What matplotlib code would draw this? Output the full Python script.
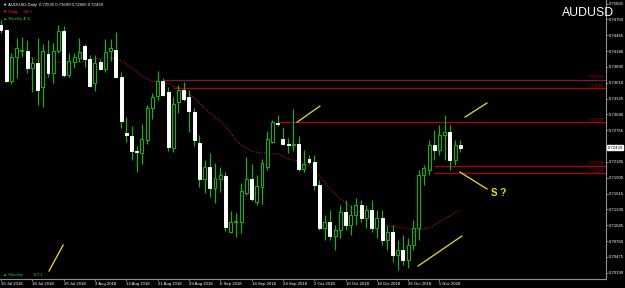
import matplotlib
matplotlib.use("Agg")
import matplotlib.pyplot as plt
from matplotlib.patches import Rectangle
import numpy as np

plt.rcParams["font.family"] = ["Liberation Sans", "DejaVu Sans"]

SYMBOL = "AUDUSD"
HEADER = "AUDUSD,Daily  0.72535 0.73699 0.72065 0.72439"

# daily bars, 10 Jul 2018 .. 9 Nov 2018
OPEN = [0.7465, 0.7456, 0.7364, 0.7407, 0.7418, 0.7418, 0.7388, 0.7397, 0.7353, 0.7413,
        0.7379, 0.7418, 0.7454, 0.7375, 0.7398, 0.7406, 0.7427, 0.7404, 0.7361, 0.7398,
        0.7386, 0.7418, 0.7420, 0.7371, 0.7271, 0.7265, 0.7238, 0.7235, 0.7258, 0.7316,
        0.7337, 0.7364, 0.7344, 0.7244, 0.7326, 0.7348, 0.7335, 0.7308, 0.7253, 0.7188,
        0.7209, 0.7172, 0.7188, 0.7193, 0.7092, 0.7110, 0.7110, 0.7163, 0.7188, 0.7146,
        0.7173, 0.7209, 0.7254, 0.7289, 0.7260, 0.7251, 0.7249, 0.7251, 0.7206, 0.7224,
        0.7218, 0.7177, 0.7100, 0.7110, 0.7085, 0.7096, 0.7128, 0.7105, 0.7123, 0.7141,
        0.7118, 0.7132, 0.7100, 0.7118, 0.7078, 0.7092, 0.7051, 0.7060, 0.7042, 0.7069,
        0.7100, 0.7195, 0.7204, 0.7249, 0.7240, 0.7267, 0.7272, 0.7222, 0.7249]
HIGH = [0.7474, 0.7458, 0.7415, 0.7442, 0.7443, 0.7438, 0.7407, 0.7442, 0.7431, 0.7438,
        0.7433, 0.7465, 0.7463, 0.7415, 0.7415, 0.7442, 0.7431, 0.7411, 0.7411, 0.7404,
        0.7440, 0.7440, 0.7452, 0.7380, 0.7299, 0.7283, 0.7247, 0.7287, 0.7321, 0.7343,
        0.7382, 0.7370, 0.7353, 0.7335, 0.7357, 0.7362, 0.7348, 0.7316, 0.7267, 0.7222,
        0.7235, 0.7217, 0.7209, 0.7200, 0.7130, 0.7127, 0.7181, 0.7227, 0.7215, 0.7195,
        0.7224, 0.7274, 0.7294, 0.7303, 0.7281, 0.7262, 0.7314, 0.7265, 0.7240, 0.7231,
        0.7231, 0.7186, 0.7123, 0.7132, 0.7105, 0.7141, 0.7150, 0.7141, 0.7154, 0.7150,
        0.7141, 0.7150, 0.7132, 0.7132, 0.7105, 0.7105, 0.7078, 0.7087, 0.7082, 0.7114,
        0.7204, 0.7213, 0.7258, 0.7276, 0.7285, 0.7303, 0.7285, 0.7258, 0.7258]
LOW = [0.7451, 0.7362, 0.7359, 0.7370, 0.7407, 0.7379, 0.7344, 0.7321, 0.7317, 0.7371,
       0.7361, 0.7415, 0.7371, 0.7371, 0.7388, 0.7398, 0.7389, 0.7353, 0.7346, 0.7384,
       0.7380, 0.7400, 0.7370, 0.7280, 0.7254, 0.7222, 0.7200, 0.7215, 0.7251, 0.7296,
       0.7330, 0.7337, 0.7238, 0.7236, 0.7307, 0.7328, 0.7272, 0.7247, 0.7173, 0.7163,
       0.7155, 0.7145, 0.7164, 0.7094, 0.7091, 0.7083, 0.7091, 0.7159, 0.7148, 0.7141,
       0.7143, 0.7204, 0.7253, 0.7283, 0.7249, 0.7235, 0.7238, 0.7202, 0.7200, 0.7215,
       0.7168, 0.7096, 0.7078, 0.7078, 0.7060, 0.7082, 0.7096, 0.7087, 0.7105, 0.7110,
       0.7100, 0.7092, 0.7082, 0.7069, 0.7060, 0.7038, 0.7024, 0.7033, 0.7028, 0.7060,
       0.7078, 0.7177, 0.7195, 0.7222, 0.7231, 0.7222, 0.7204, 0.7213, 0.7236]
CLOSE = [0.7456, 0.7364, 0.7407, 0.7424, 0.7420, 0.7388, 0.7397, 0.7348, 0.7418, 0.7379,
         0.7418, 0.7454, 0.7375, 0.7400, 0.7407, 0.7416, 0.7404, 0.7355, 0.7397, 0.7386,
         0.7416, 0.7424, 0.7371, 0.7292, 0.7267, 0.7238, 0.7236, 0.7260, 0.7316, 0.7335,
         0.7364, 0.7339, 0.7245, 0.7323, 0.7348, 0.7332, 0.7310, 0.7258, 0.7188, 0.7209,
         0.7172, 0.7190, 0.7195, 0.7101, 0.7110, 0.7112, 0.7166, 0.7188, 0.7152, 0.7175,
         0.7217, 0.7260, 0.7290, 0.7287, 0.7251, 0.7249, 0.7251, 0.7206, 0.7215, 0.7218,
         0.7177, 0.7100, 0.7110, 0.7085, 0.7096, 0.7128, 0.7105, 0.7123, 0.7141, 0.7118,
         0.7132, 0.7100, 0.7118, 0.7078, 0.7092, 0.7051, 0.7060, 0.7042, 0.7069, 0.7100,
         0.7195, 0.7208, 0.7249, 0.7240, 0.7267, 0.7272, 0.7222, 0.7249, 0.7244]

# dotted moving average
MA = [np.nan, np.nan, 0.7424, 0.7418, 0.7413, 0.7409, 0.7406, 0.7402, 0.7400, 0.7398,
      0.7397, 0.7398, 0.7398, 0.7398, 0.7398, 0.7398, 0.7400, 0.7402, 0.7404, 0.7404,
      0.7406, 0.7406, 0.7404, 0.7400, 0.7395, 0.7388, 0.7380, 0.7373, 0.7368, 0.7364,
      0.7362, 0.7362, 0.7359, 0.7355, 0.7352, 0.7348, 0.7341, 0.7334, 0.7325, 0.7316,
      0.7307, 0.7299, 0.7292, 0.7283, 0.7271, 0.7258, 0.7249, 0.7244, 0.7238, 0.7236,
      0.7235, 0.7235, 0.7233, 0.7233, 0.7229, 0.7224, 0.7222, 0.7220, 0.7217, 0.7211,
      0.7204, 0.7193, 0.7182, 0.7170, 0.7161, 0.7152, 0.7145, 0.7137, 0.7132, 0.7127,
      0.7123, 0.7118, 0.7114, 0.7109, 0.7105, 0.7103, 0.7101, 0.7100, 0.7098, 0.7096,
      0.7096, 0.7098, 0.7100, 0.7105, 0.7110, 0.7116, 0.7121, 0.7127, 0.7132]

X_LABELS = ["10 Jul 2018", "18 Jul 2018", "26 Jul 2018", "3 Aug 2018", "13 Aug 2018",
            "21 Aug 2018", "29 Aug 2018", "6 Sep 2018", "14 Sep 2018", "24 Sep 2018",
            "2 Oct 2018", "10 Oct 2018", "18 Oct 2018", "26 Oct 2018", "5 Nov 2018"]
Y_TICKS = [0.75035, 0.74750, 0.74465, 0.74180, 0.73895, 0.73610, 0.73325, 0.73040,
           0.72755, 0.72470, 0.72185, 0.71900, 0.71615, 0.71330, 0.71045, 0.70760,
           0.70475, 0.70190]
LAST_PRICE = 0.72439

# horizontal levels and the bar they start from
LEVELS = [0.73666, 0.73512, 0.72900, 0.72120, 0.71994]
LEVEL_START = [31, 33, 53, 83, 83]
LEVEL_COLORS = ["#7a2020", "#b00000", "#b00000", "#b00000", "#b00000"]

# yellow hand-drawn marks: (bar, price) pairs
MARKS = [((9.2, 0.70222), (11.9, 0.70690)),
         ((56.7, 0.72900), (61.1, 0.73190)),
         ((88.9, 0.72994), (93.1, 0.73246)),
         ((87.9, 0.72004), (93.1, 0.71698)),
         ((79.9, 0.70312), (88.3, 0.70852))]

W, H = 625, 288
PX = 5.22  # pixels per bar
GREEN = "#00c000"
RED = "#b00000"
FS = 3.1

fig = plt.figure(figsize=(W / 100, H / 100), dpi=100, facecolor="black")
ax = fig.add_axes([0, 9 / H, 606 / W, 279 / H], facecolor="black")
ax.set_xlim(-1 / PX, 605 / PX)
ax.set_ylim(0.7510 - 0.00018 * 279, 0.7510)

# candles
for i, (o, h, l, c) in enumerate(zip(OPEN, HIGH, LOW, CLOSE)):
    ax.vlines(i, l, h, color=GREEN, lw=0.8, zorder=3)
    bear = c < o
    ax.add_patch(Rectangle((i - 0.28, min(o, c)), 0.56, max(abs(c - o), 0.00004),
                           facecolor="white" if bear else "black",
                           edgecolor="white" if bear else GREEN, lw=0.7, zorder=4))

ax.plot(np.arange(len(MA)), MA, color="#a01010", ls=(0, (1, 1.2)), lw=0.9, zorder=2)

# levels
for lvl, start, col in zip(LEVELS, LEVEL_START, LEVEL_COLORS):
    ax.hlines(lvl, start, 605 / PX, color=col, lw=0.9, zorder=1)
    ax.text(603 / PX, lvl + 0.00012, f"{lvl:.5f}", color=RED, fontsize=FS,
            ha="right", va="bottom", zorder=5)

for (x0, y0), (x1, y1) in MARKS:
    ax.plot([x0, x1], [y0, y1], color="#f0e000", lw=0.9, zorder=6)
ax.text(93.8, 0.7163, "S ?", color="#f0e000", fontsize=7, fontweight="bold",
        va="center", ha="left", zorder=6)

# axes styling
for s in ["left", "top"]:
    ax.spines[s].set_visible(False)
for s in ["right", "bottom"]:
    ax.spines[s].set_color("#909090")
    ax.spines[s].set_linewidth(0.8)
ax.yaxis.tick_right()
ax.set_yticks(Y_TICKS)
# the tick under the current-price box is hidden in the terminal
ax.set_yticklabels(["" if abs(v - LAST_PRICE) < 0.0005 else f"{v:.5f}" for v in Y_TICKS])
ax.set_xticks(np.arange(0, len(OPEN), 6))
ax.set_xticklabels(X_LABELS, ha="left")
ax.tick_params(axis="both", colors="#909090", labelcolor="white", labelsize=FS,
               length=1.5, width=0.6, pad=0.6)

# current price box
ax.annotate(f"{LAST_PRICE:.5f}", xy=(1, LAST_PRICE), xycoords=("axes fraction", "data"),
            xytext=(1.0, 0), textcoords="offset points", fontsize=FS, color="black",
            va="center", ha="left",
            bbox=dict(boxstyle="square,pad=0.1", fc="white", ec="white"))

# labels
fig.text(614 / W, 1 - 13 / H, SYMBOL, color="white", fontsize=8.8, va="center", ha="right")
fig.text(3 / W, 1 - 5 / H, "\u25bc " + HEADER, color="white", fontsize=FS, va="center")
fig.text(3 / W, 1 - 12 / H, "\u25bc Daily", color="#ff3030", fontsize=FS, va="center")
fig.text(23 / W, 1 - 12 / H, "-99.3", color="#ff3030", fontsize=FS, va="center")
fig.text(3 / W, 1 - 19 / H, "\u25b2 Weekly", color="#20c020", fontsize=FS, va="center")
fig.text(23 / W, 1 - 19 / H, "45.6", color="#20c020", fontsize=FS, va="center")
fig.text(3 / W, 1 - 275 / H, "\u25b2 Monthly", color="#20c020", fontsize=FS, va="center")
fig.text(33 / W, 1 - 275 / H, "173.1", color="#20c020", fontsize=FS, va="center")

fig.savefig("out.png", dpi=100, facecolor="black")
